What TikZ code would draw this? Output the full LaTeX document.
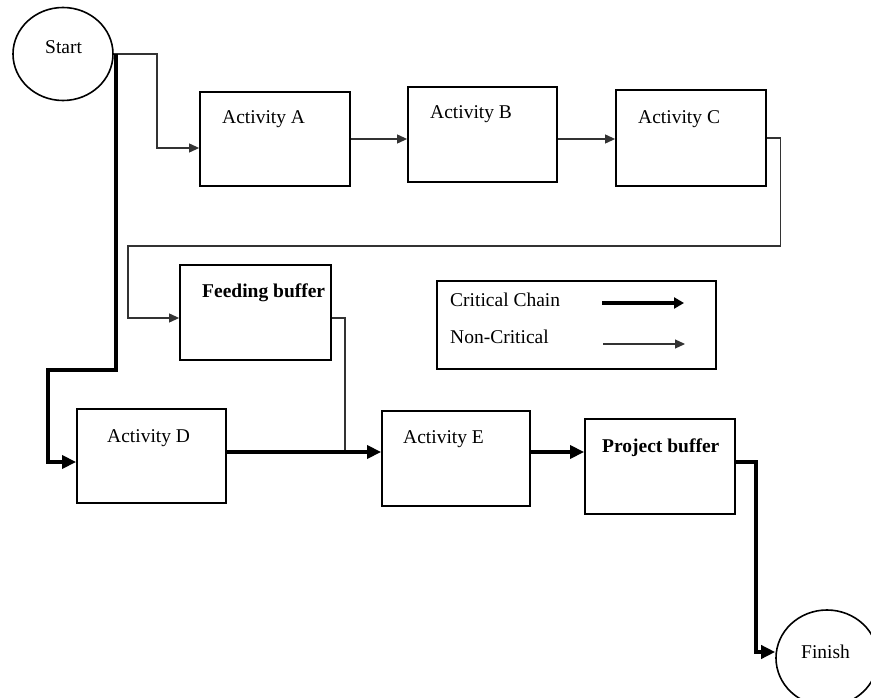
\documentclass[tikz,border=0pt]{standalone}
\usepackage{fontspec}
\setmainfont{Liberation Serif}
\usetikzlibrary{arrows.meta,shapes.geometric}
\begin{document}
\begin{tikzpicture}[x=1pt,y=-1pt,
  txt/.style={font=\fontsize{19.5}{23}\selectfont, inner sep=0pt, anchor=base west},
  btxt/.style={font=\fontsize{19.5}{23}\selectfont\bfseries, inner sep=0pt, anchor=base west},
  box/.style={draw, line width=1.8pt, inner sep=0pt},
  oval/.style={draw, ellipse, line width=1.6pt, inner sep=0pt},
  thinline/.style={line width=1.1pt, draw=black!80},
  nc/.style={thinline, -{Triangle[length=10pt,width=9pt]}},
  cc/.style={line width=4pt, -{Triangle[length=14pt,width=13pt]}},
]
\useasboundingbox[fill=white] (0,0) rectangle (871,698);

% terminals
\node[oval, minimum width=100pt, minimum height=93pt] (start) at (63,54) {};
\node[txt] (startlbl) at (45,54) {Start};
\node[oval, minimum width=102pt, minimum height=96pt] (finish) at (827,658) {};
\node[txt] (finishlbl) at (801,658) {Finish};

% activities and buffers
\node[box, minimum width=150pt, minimum height=94pt] (A) at (275,139) {};
\node[box, minimum width=149pt, minimum height=95pt] (B) at (482.5,134.5) {};
\node[box, minimum width=150pt, minimum height=96pt] (C) at (691,138) {};
\node[box, minimum width=151pt, minimum height=95pt] (F) at (255.5,312.5) {};
\node[box, minimum width=149pt, minimum height=94pt] (D) at (151.5,456) {};
\node[box, minimum width=148pt, minimum height=95pt] (E) at (456,458.5) {};
\node[box, minimum width=150pt, minimum height=95pt] (P) at (660,466.5) {};

\node[txt] (tA) at (222,124) {Activity A};
\node[txt] (tB) at (430,119) {Activity B};
\node[txt] (tC) at (638,124) {Activity C};
\node[btxt] (tF) at (202,298) {Feeding buffer};
\node[txt] (tD) at (107,442) {Activity D};
\node[txt] (tE) at (403,443) {Activity E};
\node[btxt] (tP) at (602,452) {Project buffer};

% legend
\node[draw, line width=1.2pt, minimum width=279pt, minimum height=88pt, inner sep=0pt] (L) at (576.5,325) {};
\node[txt] (tCC) at (450,306) {Critical Chain};
\node[txt] (tNC) at (450,343) {Non-Critical};
\coordinate (ccA) at (602,303);
\coordinate (ccB) at (684,303);
\coordinate (ncA) at (603,344);
\coordinate (ncB) at (685,344);
\draw[line width=4pt, -{Triangle[length=10pt,width=11pt]}] (ccA) -- (ccB);
\draw[nc] (ncA) -- (ncB);

% non-critical connectors
\draw[nc] (start.east) -- (157,54) |- ([yshift=-9pt]A.west);
\draw[nc] (A.east) -- (A.east -| B.west);
\draw[nc] (B.east |- A.east) -- (A.east -| C.west);
\coordinate (cbend) at (128,246);
\draw[nc] (C.east) -- ++(14,0) |- (cbend) |- ([yshift=-5.5pt]F.west);
\coordinate (join) at (345,452);
\draw[thinline] ([yshift=-5.5pt]F.east) -| (join);

% critical chain
\draw[cc] (start.east) ++(2,0) |- (48,370) |- ([yshift=-6pt]D.west);
\draw[cc] ([yshift=4pt]D.east) -- ([yshift=4pt]D.east -| E.west);
\draw[cc] ([yshift=4pt]D.east -| E.east) -- ([yshift=4pt]D.east -| P.west);
\draw[cc] ([yshift=4.5pt]P.east) -- ++(20,0) |- ([yshift=6pt]finish.west);
\end{tikzpicture}
\end{document}
